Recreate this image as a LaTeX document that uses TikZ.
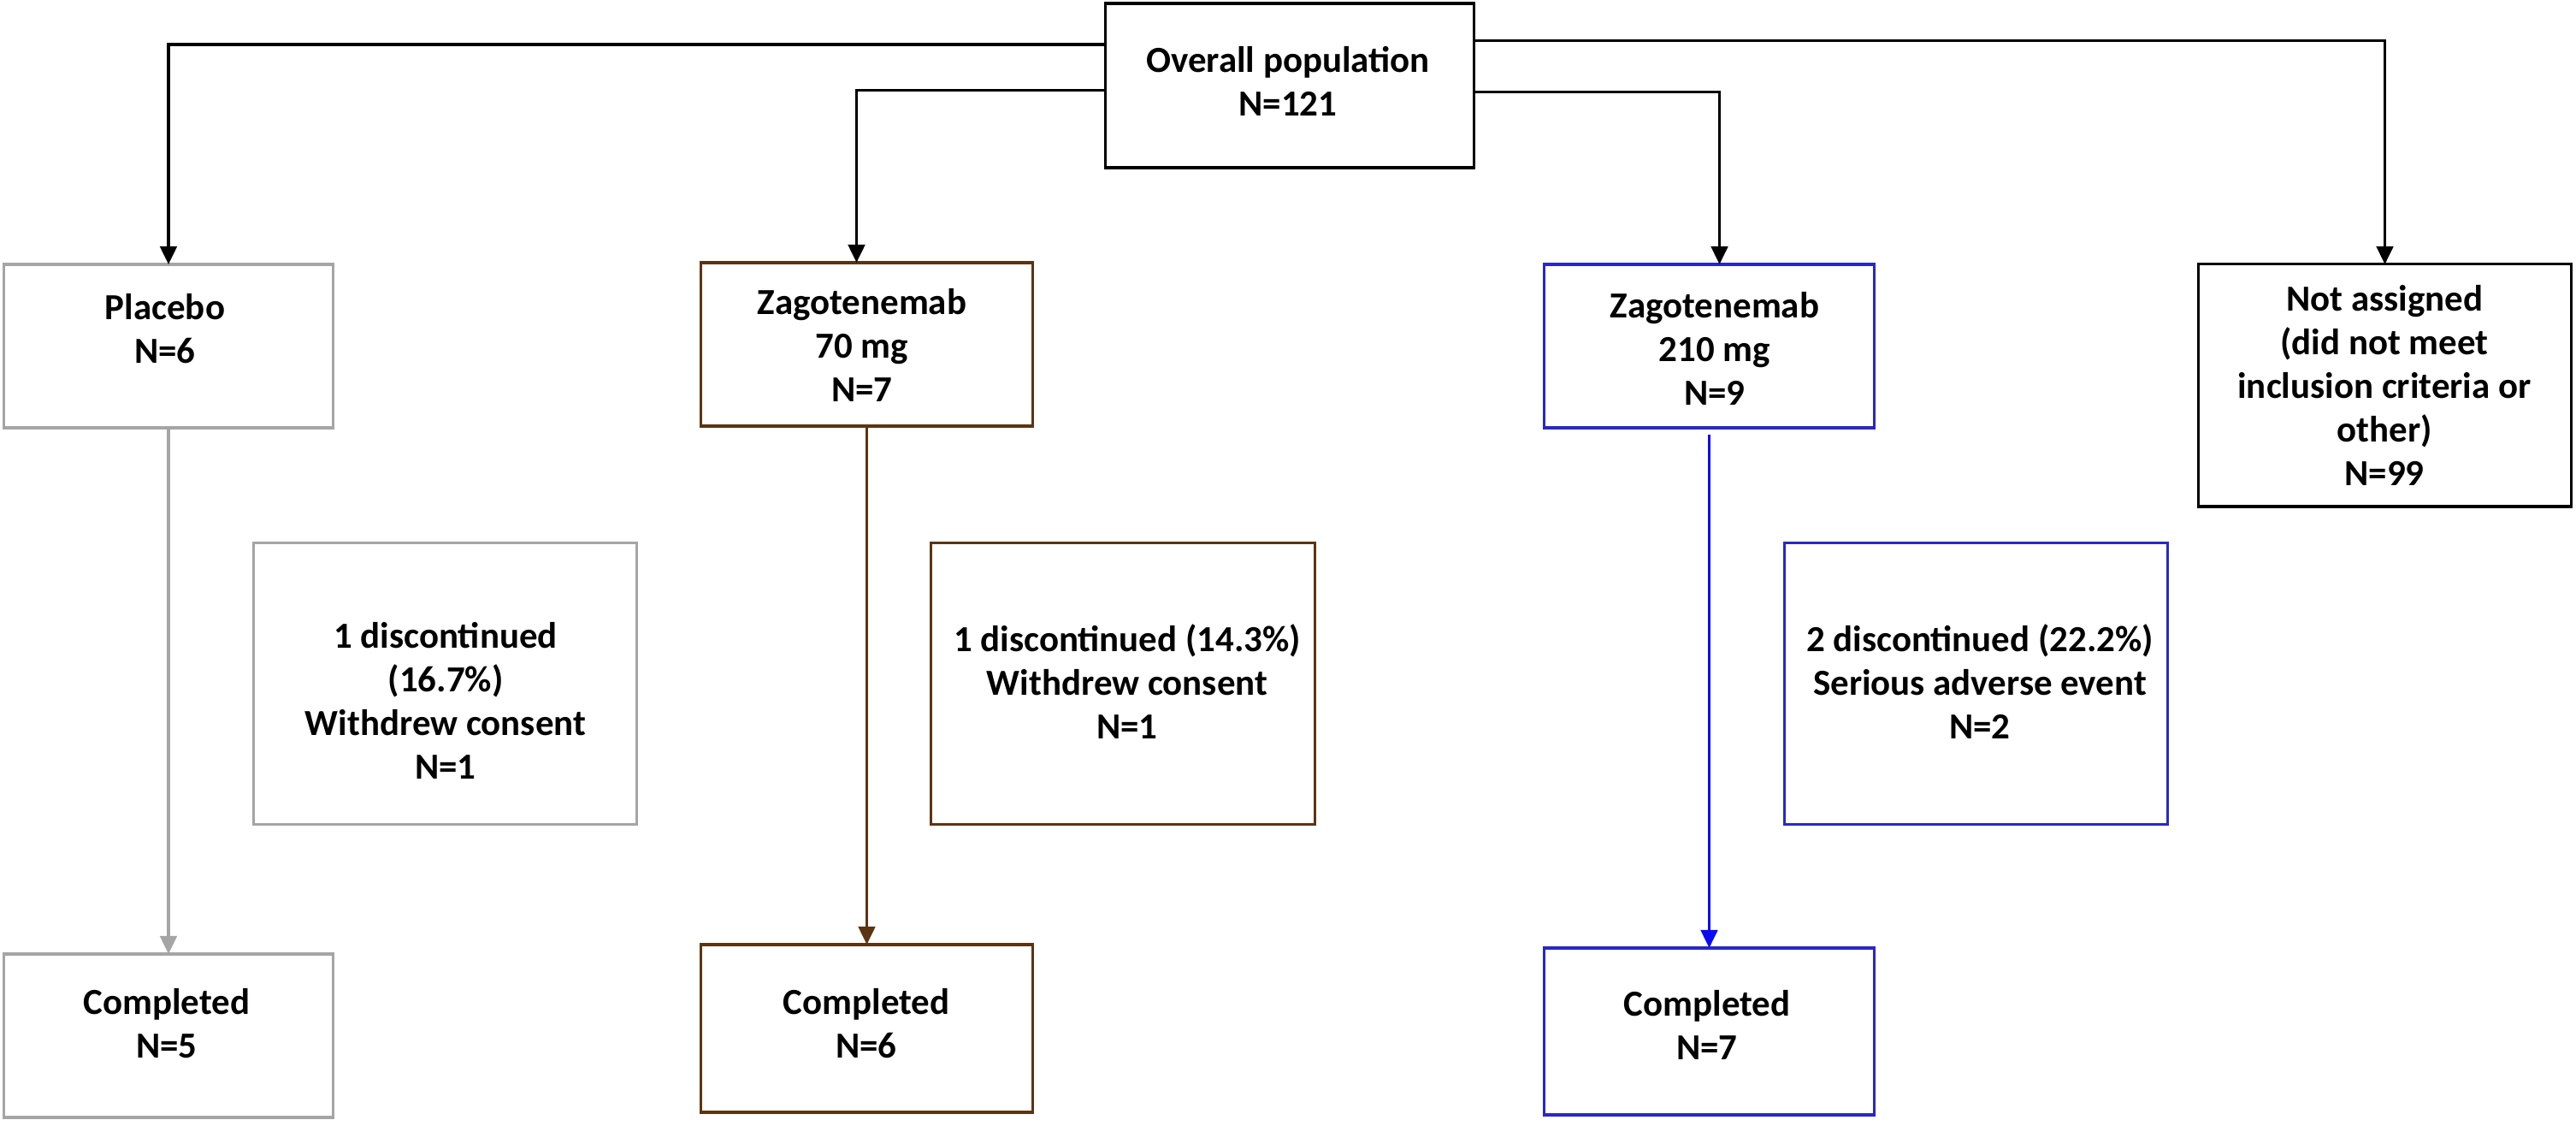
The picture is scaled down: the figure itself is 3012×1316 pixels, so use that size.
\documentclass[tikz,border=0pt]{standalone}
\usepackage{fontspec}
\setmainfont{Carlito}
\usetikzlibrary{arrows.meta,calc}

\definecolor{plcgrey}{RGB}{165,165,165}
\definecolor{zagbrown}{RGB}{92,52,18}
\definecolor{zagblue}{RGB}{40,40,200}
\definecolor{arrblue}{RGB}{10,10,245}

\begin{document}
\begin{tikzpicture}[x=0.01cm,y=-0.01cm,
    box/.style={draw, line width=0.9pt, inner sep=0pt, outer sep=0pt},
    txt/.style={align=center, inner sep=0pt, font=\fontsize{12.2pt}{14.5pt}\selectfont\bfseries},
    arr/.style={line width=0.9pt, -{Triangle[length=6pt,width=5.6pt]}}]
    \useasboundingbox (0,0) rectangle (3012,1316);

    % boxes
    \node[box, minimum width=4.30cm, minimum height=1.92cm] (ovp) at (1508,100) {};
    \node[box, draw=plcgrey, minimum width=3.84cm, minimum height=1.91cm] (plc) at (197,404.5) {};
    \node[box, draw=zagbrown, minimum width=3.87cm, minimum height=1.91cm] (z70) at (1013.5,402.5) {};
    \node[box, draw=zagblue, minimum width=3.85cm, minimum height=1.91cm] (z210) at (1998.5,404.5) {};
    \node[box, minimum width=4.35cm, minimum height=2.83cm] (nas) at (2788.5,450.5) {};

    \node[box, draw=plcgrey, minimum width=4.47cm, minimum height=3.28cm] (dplc) at (520.5,799) {};
    \node[box, draw=zagbrown, minimum width=4.48cm, minimum height=3.28cm] (d70) at (1313,799) {};
    \node[box, draw=zagblue, minimum width=4.47cm, minimum height=3.28cm] (d210) at (2310.5,799) {};

    \node[box, draw=plcgrey, minimum width=3.84cm, minimum height=1.91cm] (cplc) at (197,1210.5) {};
    \node[box, draw=zagbrown, minimum width=3.87cm, minimum height=1.96cm] (c70) at (1013.5,1202) {};
    \node[box, draw=zagblue, minimum width=3.85cm, minimum height=1.95cm] (c210) at (1998.5,1205.5) {};

    % texts
    \node[txt] (ovp-t) at (1506,95) {Overall population\\N=121};
    \node[txt] (plc-t) at (193,384) {Placebo\\N=6};
    \node[txt] (z70-t) at (1008,403) {Zagotenemab\\70 mg\\N=7};
    \node[txt] (z210-t) at (2005,407) {Zagotenemab\\210 mg\\N=9};
    \node[txt] (nas-t) at (2788,450) {Not assigned\\(did not meet\\inclusion criteria or\\other)\\N=99};
    \node[txt] (dplc-t) at (521,819) {1 discontinued\\(16.7\%)\\Withdrew consent\\N=1};
    \node[txt] (d70-t) at (1318,797) {1 discontinued (14.3\%)\\Withdrew consent\\N=1};
    \node[txt] (d210-t) at (2315,797) {2 discontinued (22.2\%)\\Serious adverse event\\N=2};
    \node[txt] (cplc-t) at (195,1196) {Completed\\N=5};
    \node[txt] (c70-t) at (1013,1196) {Completed\\N=6};
    \node[txt] (c210-t) at (1996,1198) {Completed\\N=7};

    % arrows
    \draw[arr] ($(ovp.north west)!.25!(ovp.south west)$) -| (plc.north);
    \draw[arr] ($(ovp.north west)!.53!(ovp.south west)$) -| ([xshift=-1.2mm]z70.north);
    \draw[arr] ($(ovp.north east)!.54!(ovp.south east)$) -| ([xshift=1.2mm]z210.north);
    \draw[arr] ($(ovp.north east)!.225!(ovp.south east)$) -| (nas.north);

    \draw[arr, plcgrey] (plc.south) -- (cplc.north);
    \draw[arr, zagbrown] (z70.south) -- (c70.north);
    \draw[arr, arrblue, shorten <=0.8mm] (z210.south) -- (c210.north);
\end{tikzpicture}
\end{document}
